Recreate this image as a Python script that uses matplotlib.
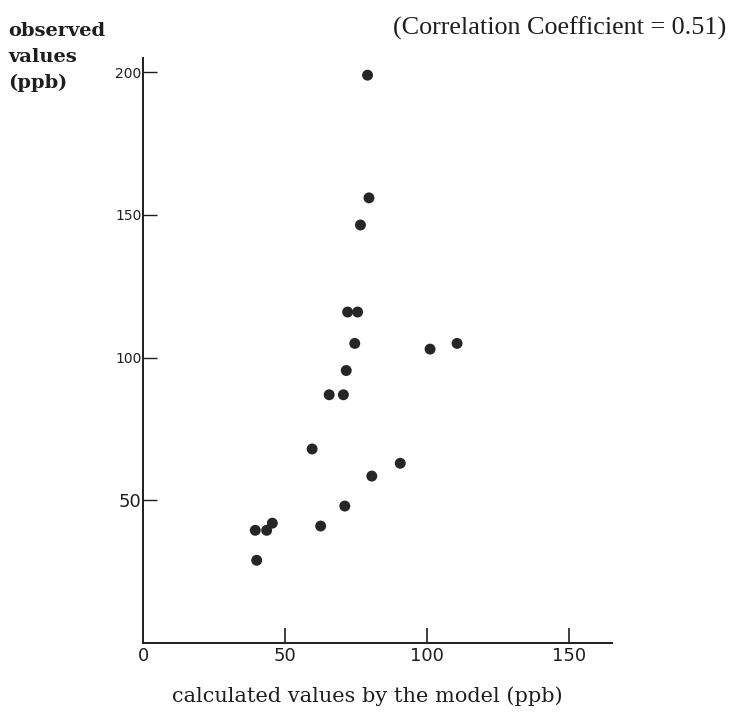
import matplotlib.pyplot as plt

# values
calc_ppb = [79, 79.5, 76.5, 72, 75.5, 74.5, 101, 110.5, 71.5, 65.5,
            70.5, 59.5, 90.5, 80.5, 71, 45.5, 39.5, 43.5, 62.5, 40]
obs_ppb = [199, 156, 146.5, 116, 116, 105, 103, 105, 95.5, 87,
           87, 68, 63, 58.5, 48, 42, 39.5, 39.5, 41, 29]

x_ticks = [0, 50, 100, 150]
y_ticks = [50, 100, 150, 200]

ink = "#1e1e1e"

fig = plt.figure(figsize=(7.33, 7.14), dpi=100)
ax = fig.add_axes([0.1951, 0.0994, 0.6398, 0.8193])

ax.scatter(calc_ppb, obs_ppb, s=62, color="#262626", edgecolors="none", zorder=3)

ax.set_xlim(0, 165)
ax.set_ylim(0, 205)

for side in ["top", "right"]:
    ax.spines[side].set_visible(False)
for side in ["left", "bottom"]:
    ax.spines[side].set_linewidth(1.4)
    ax.spines[side].set_color(ink)

ax.set_xticks(x_ticks)
ax.set_xticklabels([str(v) for v in x_ticks])
ax.set_yticks(y_ticks)
ax.set_yticklabels([str(v) for v in y_ticks])

ax.tick_params(axis="x", direction="in", length=11, width=1.2, pad=3,
               labelsize=13, colors=ink)
ax.tick_params(axis="y", direction="in", length=10, width=1.0, pad=1,
               labelsize=10, colors=ink)
ax.xaxis.get_major_ticks()[0].tick1line.set_visible(False)
ax.get_yticklabels()[0].set_fontsize(13)

fig.text(8 / 733, 1 - 22 / 714, "observed\nvalues\n(ppb)",
         family="DejaVu Serif", fontweight="bold", fontsize=14,
         color=ink, ha="left", va="top", linespacing=1.55)

fig.text(726 / 733, 1 - 35 / 714, "(Correlation Coefficient = 0.51)",
         family="Liberation Serif", fontsize=18.8, color=ink,
         ha="right", va="baseline")

fig.text(367 / 733, 1 - 702 / 714, "calculated values by the model (ppb)",
         family="DejaVu Serif", fontsize=15, color=ink,
         ha="center", va="baseline")

fig.savefig("out.png", dpi=100, facecolor="white")
